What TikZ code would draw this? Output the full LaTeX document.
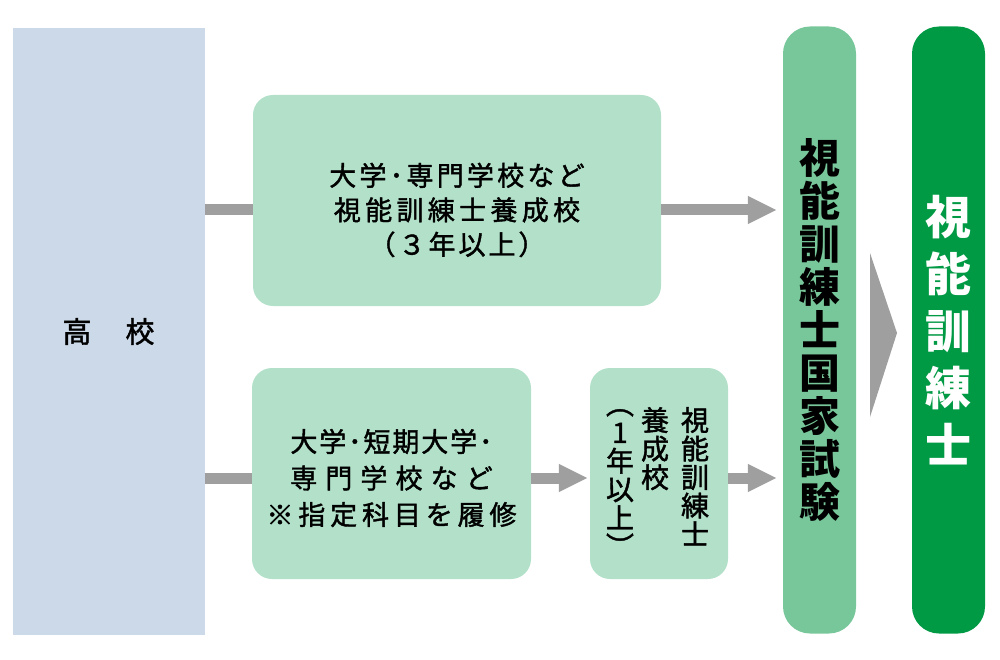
\documentclass[tikz,border=0pt]{standalone}
\usepackage{fontspec}
\setmainfont{Noto Sans CJK JP}[UprightFeatures={FakeBold=1.5}]
\usetikzlibrary{positioning, arrows.meta}

\definecolor{hsblue}{HTML}{CBD9E8}
\definecolor{boxgreen}{HTML}{B2E0C9}
\definecolor{examgreen}{HTML}{78C79A}
\definecolor{darkgreen}{HTML}{009944}
\definecolor{arrowgray}{HTML}{9F9F9F}

\tikzset{
	box/.style={fill=boxgreen, rounded corners=20pt, inner sep=0pt, minimum height=211pt},
	bar/.style={rounded corners=27pt, inner sep=0pt, minimum width=73pt, minimum height=607pt, align=center},
	column/.style={anchor=north, inner sep=0pt, align=center, font=\fontsize{28}{28.5}\selectfont},
	feed/.style={draw=arrowgray, line width=11pt},
	flow/.style={feed, -{Triangle[length=29pt, width=26pt]}},
}

\begin{document}
\begin{tikzpicture}[x=1pt, y=-1pt]
			\useasboundingbox (0,0) rectangle (1000,660);
			\node[fill=hsblue, inner sep=0pt, minimum width=192pt, minimum height=607pt, font=\fontsize{29}{30}\selectfont] (hs) at (108.5,331.5) {高\hspace{34pt}校};
			
			\node[box, minimum width=408pt] (upper) at (457,200.5) {};
			\node[align=center, font=\fontsize{27}{34.5}\selectfont] (uppertxt) at (457,210) {{\addfontfeatures{LetterSpace=12}大学･専門学校など}\\{\addfontfeatures{LetterSpace=16}視能訓練士養成校}\\{\addfontfeatures{LetterSpace=11}（３年以上）}};
			\node[box, minimum width=279pt] (lower) at (391.5,473.5) {};
			\node[align=center, font=\fontsize{27}{36.5}\selectfont] (lowertxt) at (391.5,478) {{\addfontfeatures{LetterSpace=7}大学･短期大学･}\\{\addfontfeatures{LetterSpace=30}専門学校など}\\{\addfontfeatures{LetterSpace=18}※指定科目を履修}};
			\node[box, minimum width=138pt] (school) at (659,473.5) {};
			\node[column] (col1) at (695,407) {視\\能\\訓\\練\\士};
			\node[column] (col2) at (655,407) {養\\成\\校};
			\node[column] (col3) at (620,409) {︵\\1\\年\\以\\上\\︶};
			
			\node[bar, fill=examgreen, font=\bfseries\fontsize{41}{43}\selectfont] (exam) at (819.5,330) {視\\能\\訓\\練\\士\\国\\家\\試\\験};
			\node[bar, fill=darkgreen, text=white, font=\bfseries\fontsize{46}{57}\selectfont] (final) at (948.5,330) {視\\能\\訓\\練\\士};
			
			\draw[feed] (hs.east |- uppertxt) -- (upper.west |- uppertxt);
			\draw[flow, shorten >=6pt] (upper.east |- uppertxt) -- (exam.west |- uppertxt);
			\draw[feed] (hs.east |- lowertxt) -- (lower.west |- lowertxt);
			\draw[flow, shorten >=2pt] (lower.east |- lowertxt) -- (school.west |- lowertxt);
			\draw[flow, shorten >=6pt] (school.east |- lowertxt) -- (exam.west |- lowertxt);
			\fill[arrowgray] (870,253) -- (897,333) -- (870,417) -- cycle;
		\end{tikzpicture}
\end{document}
